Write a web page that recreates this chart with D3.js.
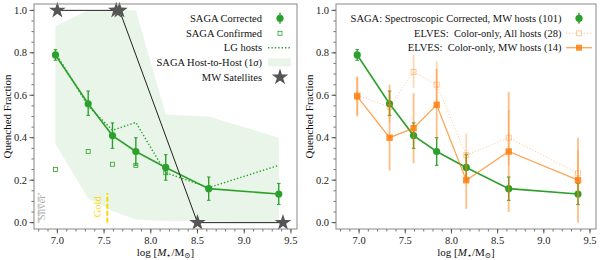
<!DOCTYPE html>
<html>
<head>
<meta charset="utf-8">
<script src="https://cdn.jsdelivr.net/npm/d3@7"></script>
<style>
  body { margin: 0; background: #fff; }
  svg text { font-family: "Liberation Serif", "Times New Roman", Times, "DejaVu Serif", serif; }
  .tick-label { font-size: 10.5px; fill: #222; }
  .axis-label { font-size: 11px; fill: #111; }
  .legend-text { font-size: 10.5px; fill: #111; white-space: pre; }
</style>
</head>
<body>
<svg id="chart" width="604" height="260"></svg>
<script>
// ---- data ----
const massBins = [6.98, 7.33, 7.59, 7.84, 8.16, 8.62, 9.37];

const sagaQf = [0.79, 0.56, 0.41, 0.335, 0.26, 0.16, 0.135];
const sagaLo = [0.765, 0.505, 0.35, 0.27, 0.20, 0.105, 0.085];
const sagaHi = [0.815, 0.62, 0.47, 0.40, 0.32, 0.215, 0.185];

const confirmedX = [6.98, 7.33, 7.59, 7.84, 8.16];
const confirmedQf = [0.25, 0.335, 0.275, 0.27, 0.235];

const lgHostsQf = [0.80, 0.55, 0.435, 0.472, 0.235, 0.165, 0.27];

const bandUpper = [0.925, 1.0, 1.0, 1.0, 0.51, 0.50, 0.40];
const bandLower = [0.37, 0.115, 0.055, 0.015, 0.008, 0.005, 0.0];

const mwSatX = [7.0, 7.63, 7.665, 8.5, 9.415];
const mwSatQf = [1.0, 1.0, 1.0, 0.0, 0.0];

const elvesAllQf = [0.60, 0.545, 0.71, 0.65, 0.318, 0.40, 0.232];
const elvesAllLo = [0.51, 0.47, 0.635, 0.55, 0.21, 0.27, 0.12];
const elvesAllHi = [0.69, 0.62, 0.79, 0.76, 0.42, 0.53, 0.34];

const elvesMwQf = [0.595, 0.40, 0.445, 0.555, 0.20, 0.335, 0.20];
const elvesMwLo = [0.50, 0.245, 0.28, 0.39, 0.065, 0.05, 0.0];
const elvesMwHi = [0.685, 0.65, 0.61, 0.725, 0.33, 0.615, 0.40];

const xTicks = [7.0, 7.5, 8.0, 8.5, 9.0, 9.5];
const yTicks = [0.0, 0.2, 0.4, 0.6, 0.8, 1.0];

const GREEN = '#2ca02c';
const ORANGE = '#ff7f0e';

const svg = d3.select('#chart');

function makePanel(left, right) {
    const x = d3.scaleLinear().domain([6.75, 9.565]).range([left, right]);
    const y = d3.scaleLinear().domain([-0.03, 1.03]).range([229, 4]);
    const g = svg.append('g');

    // minor ticks
    const xMinor = d3.range(68, 96).map(d => d / 10).filter(d => x(d) >= left && x(d) <= right);
    const yMinor = d3.range(0, 21).map(d => d * 0.05);
    g.selectAll('.xminor').data(xMinor).enter().append('line')
        .attr('x1', d => x(d)).attr('x2', d => x(d))
        .attr('y1', 229).attr('y2', 231.5)
        .attr('stroke', '#333').attr('stroke-width', 0.7);
    g.selectAll('.yminor').data(yMinor).enter().append('line')
        .attr('x1', left).attr('x2', left - 2.5)
        .attr('y1', d => y(d)).attr('y2', d => y(d))
        .attr('stroke', '#333').attr('stroke-width', 0.7);

    // major ticks + labels
    g.selectAll('.xmajor').data(xTicks).enter().append('line')
        .attr('x1', d => x(d)).attr('x2', d => x(d))
        .attr('y1', 229).attr('y2', 233.5)
        .attr('stroke', '#333').attr('stroke-width', 0.8);
    g.selectAll('.xlab').data(xTicks).enter().append('text')
        .classed('tick-label', true)
        .attr('x', d => x(d)).attr('y', 243.5)
        .attr('text-anchor', 'middle')
        .text(d => d3.format('.1f')(d));
    g.selectAll('.ymajor').data(yTicks).enter().append('line')
        .attr('x1', left).attr('x2', left - 4.5)
        .attr('y1', d => y(d)).attr('y2', d => y(d))
        .attr('stroke', '#333').attr('stroke-width', 0.8);
    g.selectAll('.ylab').data(yTicks).enter().append('text')
        .classed('tick-label', true)
        .attr('x', left - 7).attr('y', d => y(d) + 3.6)
        .attr('text-anchor', 'end')
        .text(d => d3.format('.1f')(d));

    // axis labels
    const xl = g.append('text').classed('axis-label', true)
        .attr('x', (left + right) / 2).attr('y', 256)
        .attr('text-anchor', 'middle');
    xl.append('tspan').text('log [');
    xl.append('tspan').attr('font-style', 'italic').text('M');
    xl.append('tspan').attr('font-size', '7.5px').attr('dy', 2).text('\u22C6');
    xl.append('tspan').attr('dy', -2).text('/M');
    xl.append('tspan').attr('font-size', '7.5px').attr('dy', 2).text('\u2299');
    xl.append('tspan').attr('dy', -2).text(']');

    g.append('text').classed('axis-label', true)
        .attr('transform', `translate(${left - 23.5},116.5) rotate(-90)`)
        .attr('text-anchor', 'middle')
        .text('Quenched Fraction');

    return { g, x, y, left, right };
}

function drawErrorBars(g, xs, lo, hi, x, y, color, width, opacity, cap) {
    g.selectAll(null).data(xs).enter().append('line')
        .attr('x1', d => x(d)).attr('x2', d => x(d))
        .attr('y1', (d, i) => y(lo[i])).attr('y2', (d, i) => y(hi[i]))
        .attr('stroke', color).attr('stroke-width', width).attr('opacity', opacity);
    if (cap) {
        [lo, hi].forEach(arr => {
            g.selectAll(null).data(xs).enter().append('line')
                .attr('x1', d => x(d) - cap).attr('x2', d => x(d) + cap)
                .attr('y1', (d, i) => y(arr[i])).attr('y2', (d, i) => y(arr[i]))
                .attr('stroke', color).attr('stroke-width', 1).attr('opacity', opacity);
        });
    }
}

function drawSaga(p) {
    const { g, x, y } = p;
    g.append('path')
        .datum(massBins)
        .attr('d', d3.line().x(d => x(d)).y((d, i) => y(sagaQf[i])))
        .attr('fill', 'none').attr('stroke', GREEN).attr('stroke-width', 1.6);
    drawErrorBars(g, massBins, sagaLo, sagaHi, x, y, GREEN, 1.4, 1, 1.8);
    g.selectAll(null).data(massBins).enter().append('circle')
        .attr('cx', d => x(d)).attr('cy', (d, i) => y(sagaQf[i]))
        .attr('r', 3.6).attr('fill', GREEN);
}

function frame(p) {
    p.g.append('rect')
        .attr('x', p.left).attr('y', 4)
        .attr('width', p.right - p.left).attr('height', 225)
        .attr('fill', 'none').attr('stroke', '#888').attr('stroke-width', 1);
}

// ---------------- left panel ----------------
const L = makePanel(34, 297);
{
    const { g, x, y } = L;
    g.append('path')
        .datum(massBins)
        .attr('d', d3.area().x(d => x(d))
            .y0((d, i) => y(bandLower[i])).y1((d, i) => y(bandUpper[i])))
        .attr('fill', GREEN).attr('fill-opacity', 0.11);

    // completeness markers
    g.append('line')
        .attr('x1', x(6.80)).attr('x2', x(6.80)).attr('y1', y(0)).attr('y2', y(0.14))
        .attr('stroke', '#c8c8c8').attr('stroke-width', 2).attr('stroke-dasharray', '5,2');
    g.append('text').attr('transform', `translate(${x(6.87)},${y(0.07)}) rotate(-90)`)
        .attr('text-anchor', 'middle').attr('font-size', '10.5px').attr('fill', '#aaa')
        .text('Silver');
    g.append('line')
        .attr('x1', x(7.535)).attr('x2', x(7.535)).attr('y1', y(0)).attr('y2', y(0.14))
        .attr('stroke', '#ffd700').attr('stroke-width', 2).attr('stroke-dasharray', '5,2');
    g.append('text').attr('transform', `translate(${x(7.47)},${y(0.075)}) rotate(-90)`)
        .attr('text-anchor', 'middle').attr('font-size', '10.5px').attr('fill', '#ffd700')
        .text('Gold');

    g.append('path')
        .datum(massBins)
        .attr('d', d3.line().x(d => x(d)).y((d, i) => y(lgHostsQf[i])))
        .attr('fill', 'none').attr('stroke', GREEN).attr('stroke-width', 1.4)
        .attr('stroke-dasharray', '1.4,2');

    g.selectAll(null).data(confirmedX).enter().append('rect')
        .attr('x', d => x(d) - 2).attr('y', (d, i) => y(confirmedQf[i]) - 2)
        .attr('width', 4).attr('height', 4)
        .attr('fill', 'none').attr('stroke', GREEN).attr('stroke-width', 0.8);

    drawSaga(L);

    // MW satellites
    g.append('path')
        .datum(mwSatX)
        .attr('d', d3.line().x(d => x(d)).y((d, i) => y(mwSatQf[i])))
        .attr('fill', 'none').attr('stroke', '#222').attr('stroke-width', 1);
    const star = d3.symbol().type(d3.symbolStar).size(85);
    g.selectAll(null).data(mwSatX).enter().append('path')
        .attr('d', star)
        .attr('transform', (d, i) => `translate(${x(d)},${y(mwSatQf[i])})`)
        .attr('fill', '#555');

    frame(L);

    // legend
    const legendRows = ['SAGA Corrected', 'SAGA Confirmed', 'LG hosts', 'SAGA Host-to-Host (1', 'MW Satellites'];
    const rowY = [18.3, 33.3, 47.7, 62.3, 77.3];
    const lg = g.append('g');
    legendRows.forEach((t, i) => {
        const txt = lg.append('text').classed('legend-text', true)
            .attr('x', 262).attr('y', rowY[i] + 3.6).attr('text-anchor', 'end');
        if (i === 3) {
            txt.append('tspan').text(t);
            txt.append('tspan').attr('font-style', 'italic').text('\u03C3');
            txt.append('tspan').text(')');
        } else {
            txt.text(t);
        }
    });
    const mx = 280;
    lg.append('line').attr('x1', mx).attr('x2', mx).attr('y1', rowY[0] - 5.5).attr('y2', rowY[0] + 5.5)
        .attr('stroke', GREEN).attr('stroke-width', 1.4);
    lg.append('circle').attr('cx', mx).attr('cy', rowY[0]).attr('r', 3.6).attr('fill', GREEN);
    lg.append('rect').attr('x', mx - 2).attr('y', rowY[1] - 2).attr('width', 4).attr('height', 4)
        .attr('fill', 'none').attr('stroke', GREEN).attr('stroke-width', 0.8);
    lg.append('line').attr('x1', 268).attr('x2', 291).attr('y1', rowY[2]).attr('y2', rowY[2])
        .attr('stroke', GREEN).attr('stroke-width', 1.4).attr('stroke-dasharray', '1.4,2');
    lg.append('rect').attr('x', 268).attr('y', rowY[3] - 4).attr('width', 23).attr('height', 8)
        .attr('fill', GREEN).attr('fill-opacity', 0.11);
    lg.append('path').attr('d', star).attr('transform', `translate(${mx},${rowY[4]})`).attr('fill', '#555');
}

// ---------------- right panel ----------------
const R = makePanel(336, 596);
{
    const { g, x, y } = R;
    drawSaga(R);

    // ELVES all hosts (light, dotted)
    g.append('path')
        .datum(massBins)
        .attr('d', d3.line().x(d => x(d)).y((d, i) => y(elvesAllQf[i])))
        .attr('fill', 'none').attr('stroke', ORANGE).attr('stroke-width', 1)
        .attr('stroke-opacity', 0.4).attr('stroke-dasharray', '1.2,1.8');
    drawErrorBars(g, massBins, elvesAllLo, elvesAllHi, x, y, ORANGE, 1.8, 0.3, 0);
    g.selectAll(null).data(massBins).enter().append('rect')
        .attr('x', d => x(d) - 2.5).attr('y', (d, i) => y(elvesAllQf[i]) - 2.5)
        .attr('width', 5).attr('height', 5)
        .attr('fill', 'none').attr('stroke', ORANGE).attr('stroke-opacity', 0.4).attr('stroke-width', 1);

    // ELVES MW hosts
    g.append('path')
        .datum(massBins)
        .attr('d', d3.line().x(d => x(d)).y((d, i) => y(elvesMwQf[i])))
        .attr('fill', 'none').attr('stroke', ORANGE).attr('stroke-width', 1.3)
        .attr('stroke-opacity', 0.7);
    drawErrorBars(g, massBins, elvesMwLo, elvesMwHi, x, y, ORANGE, 1.8, 0.5, 0);
    g.selectAll(null).data(massBins).enter().append('rect')
        .attr('x', d => x(d) - 3.2).attr('y', (d, i) => y(elvesMwQf[i]) - 3.2)
        .attr('width', 6.4).attr('height', 6.4)
        .attr('fill', ORANGE).attr('fill-opacity', 0.85);

    frame(R);

    const legendRows = ['SAGA: Spectroscopic Corrected, MW hosts (101)',
        'ELVES:  Color-only, All hosts (28)', 'ELVES:  Color-only, MW hosts (14)'];
    const rowY = [18.3, 33.3, 47.7];
    const lg = g.append('g');
    legendRows.forEach((t, i) => {
        lg.append('text').classed('legend-text', true)
            .attr('x', 561.5).attr('y', rowY[i] + 3.6).attr('text-anchor', 'end')
            .text(t);
    });
    const mx = 579;
    lg.append('line').attr('x1', mx).attr('x2', mx).attr('y1', rowY[0] - 5.5).attr('y2', rowY[0] + 5.5)
        .attr('stroke', GREEN).attr('stroke-width', 1.4);
    lg.append('circle').attr('cx', mx).attr('cy', rowY[0]).attr('r', 3.6).attr('fill', GREEN);
    lg.append('line').attr('x1', 566).attr('x2', 592).attr('y1', rowY[1]).attr('y2', rowY[1])
        .attr('stroke', ORANGE).attr('stroke-opacity', 0.4).attr('stroke-dasharray', '1.2,1.8');
    lg.append('rect').attr('x', mx - 2.5).attr('y', rowY[1] - 2.5).attr('width', 5).attr('height', 5)
        .attr('fill', 'white').attr('stroke', ORANGE).attr('stroke-opacity', 0.4);
    lg.append('line').attr('x1', 566).attr('x2', 592).attr('y1', rowY[2]).attr('y2', rowY[2])
        .attr('stroke', ORANGE).attr('stroke-opacity', 0.7).attr('stroke-width', 1.3);
    lg.append('rect').attr('x', mx - 3).attr('y', rowY[2] - 3).attr('width', 6).attr('height', 6)
        .attr('fill', ORANGE).attr('fill-opacity', 0.85);
}
</script>
</body>
</html>
